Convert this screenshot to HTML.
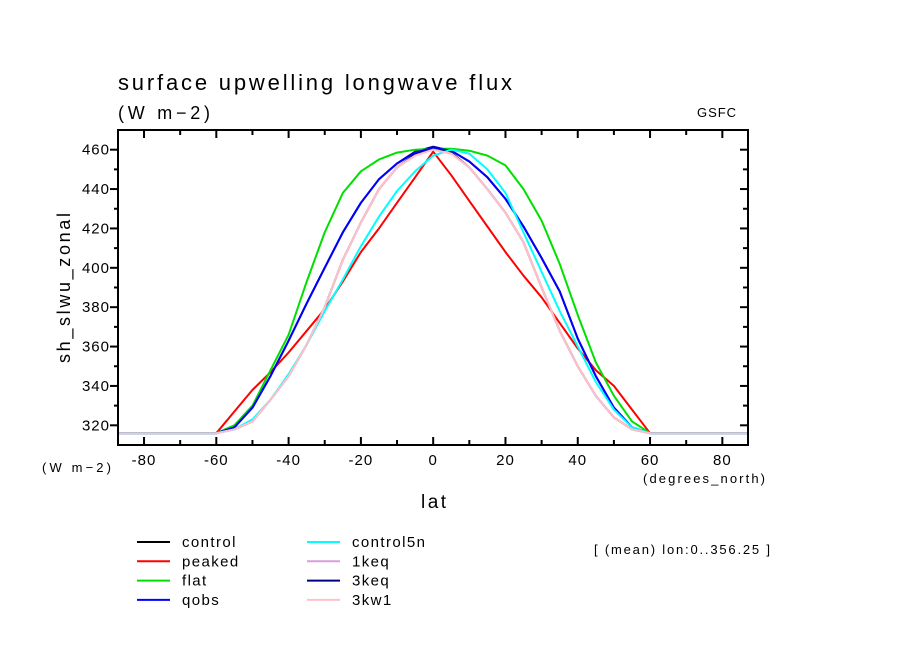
<!DOCTYPE html>
<html><head><meta charset="utf-8">
<style>
html,body{margin:0;padding:0;background:#fff;}
svg{display:block;font-family:"Liberation Sans",sans-serif;}
</style></head>
<body>
<svg id="chart" width="904" height="654" viewBox="0 0 904 654" xmlns="http://www.w3.org/2000/svg">
<rect width="904" height="654" fill="#fff"/>
<text x="118" y="90" font-size="22" textLength="394" lengthAdjust="spacing" fill="#000">surface upwelling longwave flux</text>
<text x="118" y="119" font-size="18" textLength="92" lengthAdjust="spacing" fill="#000">(W m−2)</text>
<text x="697" y="117" font-size="13" textLength="39" lengthAdjust="spacing" fill="#000">GSFC</text>
<text transform="translate(70,288) rotate(-90)" text-anchor="middle" font-size="18" textLength="150" lengthAdjust="spacing" fill="#000">sh_slwu_zonal</text>
<text x="42" y="472" font-size="13" textLength="69" lengthAdjust="spacing" fill="#000">(W m−2)</text>
<text x="643" y="483" font-size="13" textLength="122" lengthAdjust="spacing" fill="#000">(degrees_north)</text>
<text x="421" y="508" font-size="19" textLength="25" lengthAdjust="spacing" fill="#000">lat</text>
<text x="594" y="554" font-size="13" textLength="176" lengthAdjust="spacing" fill="#000">[ (mean) lon:0..356.25 ]</text>
<g id="axes"></g>
<g id="series" clip-path="url(#clip)"></g>
<defs><clipPath id="clip"><rect x="118" y="130" width="630" height="315"/></clipPath></defs>
<rect x="118" y="130" width="630" height="315" fill="none" stroke="#000" stroke-width="2"/>
<g id="legend"></g>
</svg>
<script>
const lats = [-87.5,-80,-70,-60,-55,-50,-45,-40,-35,-30,-25,-20,-15,-10,-5,0,5,10,15,20,25,30,35,40,45,50,55,60,70,80,87.5];
const control  = [316,316,316,316,318,322,333,345,361,380,404,423,440,451,457.5,461,458.5,451,440,428,413,390,368,350,335,324,318,316,316,316,316];
const peaked   = [316,316,316,316,327,338,347,357,368,379,393,408,420,433,446,459,447,434,421,408,396,385,372,359,348,340,328,316,316,316,316];
const flat     = [316,316,316,316,320,330,348,366,393,418,438,449,455,458.5,460,460.5,460.5,459.5,457,452,440,424,402,376,352,335,322,316,316,316,316];
const qobs     = [316,316,316,316,319,329,345,363,382,400,418,433,445,453,458.5,461,459.5,454,446,435,421,405,388,364,345,329,319,316,316,316,316];
const control5n= [316,316,316,316,318,323,333,346,361,378,394,411,426,439,449,457,460,458,450,438,418,398,378,360,342,328,319,316,316,316,316];
const keq1     = [316,316,316,316,318,322,333,345,361,380,404,423,440,451,457,460,458,451,440,428,413,390,368,350,335,324,318,316,316,316,316];
const keq3     = [316,316,316,316,319,329,345,363,382,400,418,433,445,453,459,461.5,459.5,454,446,435,421,405,388,364,345,329,319,316,316,316,316];
const kw1      = [316,316,316,316,318,322,333,345,361,380,404,423,440,451,457,460,458,451,440,428,413,390,368,350,335,324,318,316,316,316,316];
const xTicks = [-80,-60,-40,-20,0,20,40,60,80];
const yTicks = [320,340,360,380,400,420,440,460];

const NS="http://www.w3.org/2000/svg";
const X0=118,X1=748,Y0=130,Y1=445, XMIN=-87.2,XMAX=87.1,YMIN=310,YMAX=470;
const xs=v=>X0+(v-XMIN)/(XMAX-XMIN)*(X1-X0);
const ys=v=>Y1-(v-YMIN)/(YMAX-YMIN)*(Y1-Y0);
function mk(tag,attrs,parent){const e=document.createElementNS(NS,tag);for(const k in attrs)e.setAttribute(k,attrs[k]);parent.appendChild(e);return e;}
const axes=document.getElementById('axes');
for(let v=-80;v<=80;v+=10){
  const major=v%20===0, L=major?8:5, x=xs(v);
  const t1=mk('line',{x1:x,y1:Y1,x2:x,y2:Y1-L,stroke:'#000','stroke-width':2},axes);
  
  
  const t2=mk('line',{x1:x,y1:Y0,x2:x,y2:Y0+L,stroke:'#000','stroke-width':2},axes);
  
  
}
xTicks.forEach(v=>{
  const t=mk('text',{x:xs(v),y:Y1+20,'text-anchor':'middle','font-size':15,'letter-spacing':1},axes);
  t.textContent=v;
  
  
});
for(let v=320;v<=460;v+=10){
  const major=v%20===0, y=ys(v);
  const a=mk('line',{x1:X0,y1:y,x2:X0-(major?8:4),y2:y,stroke:'#000','stroke-width':2},axes);
  
  
  const b=mk('line',{x1:X1,y1:y,x2:X1-(major?8:5),y2:y,stroke:'#000','stroke-width':2},axes);
  
  
}
yTicks.forEach(v=>{
  const t=mk('text',{x:X0-8,y:ys(v)+5,'text-anchor':'end','font-size':15,'letter-spacing':1},axes);
  t.textContent=v;
  
  
});
const seriesDefs=[
 ['control',control,'#000000'],['peaked',peaked,'#ff0000'],['flat',flat,'#00e000'],['qobs',qobs,'#0000ff'],
 ['control5n',control5n,'#00ffff'],['1keq',keq1,'#d8a0d8'],['3keq',keq3,'#000080'],['3kw1',kw1,'#ffc0cb']];
const sg=document.getElementById('series');
const drawOrder=[0,6,5,1,2,3,4,7];
drawOrder.forEach(i=>{
  const [name,vals,col]=seriesDefs[i];
  const d=lats.map((la,j)=>(j?'L':'M')+xs(la).toFixed(1)+','+ys(vals[j]).toFixed(1)).join(' ');
  const p=mk('path',{d:d,fill:'none',stroke:col,'stroke-width':2,'stroke-linejoin':'round'},sg);
  
  
});
const lg=document.getElementById('legend');
seriesDefs.forEach(([name,vals,col],i)=>{
  const c=Math.floor(i/4), r=i%4;
  const lx=137+c*170, y=542+r*19.3;
  const l=mk('line',{x1:lx,y1:y,x2:lx+33,y2:y,stroke:col,'stroke-width':2},lg);
  
  
  const t=mk('text',{x:lx+45,y:y+5,'font-size':15,'letter-spacing':1.4},lg);
  t.textContent=name;
  
  
});
</script>
</body></html>
